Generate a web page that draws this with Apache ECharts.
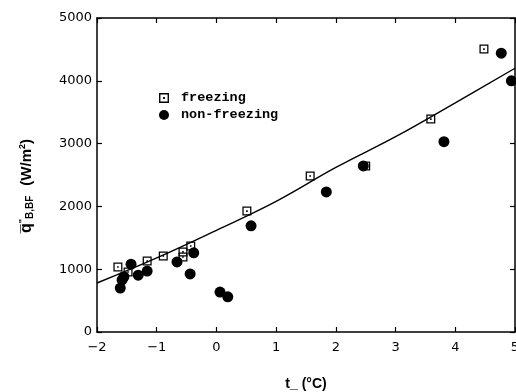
<!DOCTYPE html>
<html>
<head>
<meta charset="utf-8">
<script src="https://cdn.jsdelivr.net/npm/echarts@6/dist/echarts.min.js"></script>
<style>
  html, body { margin: 0; padding: 0; background: #fff; }
  #chart { width: 516px; height: 392px; }
</style>
</head>
<body>
<div id="chart"></div>
<script>
// freezing runs (open squares)
var freezingT = [-1.65, -1.48, -1.16, -0.89, -0.56, -0.56, -0.43, 0.51, 1.57, 2.5, 3.59, 4.48];
var freezingQ = [1035, 955, 1130, 1210, 1275, 1195, 1370, 1925, 2485, 2645, 3390, 4505];

// non-freezing runs (filled circles)
var nonFreezingT = [-1.61, -1.58, -1.55, -1.43, -1.31, -1.16, -0.66, -0.44, -0.38, 0.06, 0.19, 0.58, 1.84, 2.46, 3.81, 4.77, 4.94];
var nonFreezingQ = [700, 830, 880, 1080, 905, 970, 1115, 925, 1260, 635, 560, 1690, 2230, 2645, 3030, 4440, 4000];

// correlation curve
var fitT = [-2, -1, 0, 1, 2, 3, 4, 5];
var fitQ = [780, 1180, 1620, 2080, 2620, 3110, 3650, 4200];

var xTicks = [-2, -1, 0, 1, 2, 3, 4, 5];
var yTicks = [0, 1000, 2000, 3000, 4000, 5000];

function pairs(xs, ys) {
    return xs.map(function (x, i) { return [x, ys[i]]; });
}

// hollow square with a dot in the middle
var squareDot = 'path://M0,0H10V10H0Z M1.4,1.4V8.6H8.6V1.4Z M4.1,4.1H5.9V5.9H4.1Z';

var labelFont = { color: '#000', fontFamily: 'DejaVu Sans', fontSize: 13 };

var chart = echarts.init(document.getElementById('chart'), null, { renderer: 'canvas' });

var option = {
    backgroundColor: '#fff',
    animation: false,
    grid: { left: 97, right: 1, top: 18, bottom: 60, show: false, containLabel: false, outerBoundsMode: 'none' },
    legend: {
        orient: 'vertical',
        left: 159,
        top: 91,
        padding: 0,
        itemWidth: 10,
        itemHeight: 10,
        itemGap: 3,
        textStyle: { color: '#000', fontFamily: 'Liberation Mono', fontWeight: 'bold', fontSize: 13.5, padding: [0, 0, 0, 7] },
        data: [
            { name: 'freezing', icon: squareDot },
            { name: 'non-freezing', icon: 'circle' }
        ]
    },
    xAxis: [
        {
            type: 'value',
            min: xTicks[0],
            max: xTicks[xTicks.length - 1],
            interval: 1,
            position: 'bottom',
            axisLine: { onZero: false, lineStyle: { color: '#000', width: 1.5 } },
            axisTick: { inside: true, length: 5, lineStyle: { color: '#000', width: 1.2 } },
            splitLine: { show: false },
            axisLabel: Object.assign({ margin: 9, formatter: function (v) { return String(v).replace('-', '\u2212'); } }, labelFont),
            name: 't_ (°C)',
            nameLocation: 'middle',
            nameGap: 45,
            nameTextStyle: { color: '#000', fontFamily: 'Liberation Sans', fontWeight: 'bold', fontSize: 14 }
        },
        {
            type: 'value',
            min: xTicks[0],
            max: xTicks[xTicks.length - 1],
            interval: 1,
            position: 'top',
            axisLine: { onZero: false, lineStyle: { color: '#000', width: 1.5 } },
            axisTick: { inside: true, length: 5, lineStyle: { color: '#000', width: 1.2 } },
            axisLabel: { show: false },
            splitLine: { show: false }
        }
    ],
    yAxis: [
        {
            type: 'value',
            min: yTicks[0],
            max: yTicks[yTicks.length - 1],
            interval: 1000,
            position: 'left',
            axisLine: { show: true, onZero: false, lineStyle: { color: '#000', width: 1.5 } },
            axisTick: { show: true, inside: true, length: 5, lineStyle: { color: '#000', width: 1.2 } },
            splitLine: { show: false },
            axisLabel: Object.assign({ margin: 5, formatter: function (v) { return String(v); } }, labelFont),
            name: '{q|q\u0305}{sup|"}{sub|B,BF}   {n|(W/m}{sup|2}{n|)}',
            nameLocation: 'middle',
            nameRotate: 90,
            nameGap: 62,
            nameTextStyle: {
                padding: [0, 22, 0, 0],
                rich: {
                    q: { color: '#000', fontFamily: 'Liberation Sans', fontWeight: 'bold', fontSize: 16 },
                    n: { color: '#000', fontFamily: 'Liberation Sans', fontWeight: 'bold', fontSize: 15 },
                    sup: { color: '#000', fontFamily: 'Liberation Sans', fontWeight: 'bold', fontSize: 9, verticalAlign: 'top', padding: [0, 0, 8, 0] },
                    sub: { color: '#000', fontFamily: 'Liberation Sans', fontWeight: 'bold', fontSize: 10, verticalAlign: 'bottom', padding: [6, 0, 0, 0] }
                }
            }
        },
        {
            type: 'value',
            min: yTicks[0],
            max: yTicks[yTicks.length - 1],
            interval: 1000,
            position: 'right',
            axisLine: { show: true, onZero: false, lineStyle: { color: '#000', width: 1.5 } },
            axisTick: { show: true, inside: true, length: 5, lineStyle: { color: '#000', width: 1.2 } },
            axisLabel: { show: false },
            splitLine: { show: false }
        }
    ],
    series: [
        {
            name: 'fit',
            type: 'line',
            data: pairs(fitT, fitQ),
            smooth: 0.4,
            showSymbol: false,
            lineStyle: { color: '#000', width: 1.4 },
            z: 1
        },
        {
            name: 'non-freezing',
            type: 'scatter',
            data: pairs(nonFreezingT, nonFreezingQ),
            symbol: 'circle',
            symbolSize: 11,
            itemStyle: { color: '#000', opacity: 1 },
            z: 2
        },
        {
            name: 'freezing',
            type: 'scatter',
            data: pairs(freezingT, freezingQ),
            symbol: squareDot,
            symbolSize: 9,
            itemStyle: { color: '#000', opacity: 1 },
            z: 3
        }
    ]
};

chart.setOption(option);
</script>
</body>
</html>
